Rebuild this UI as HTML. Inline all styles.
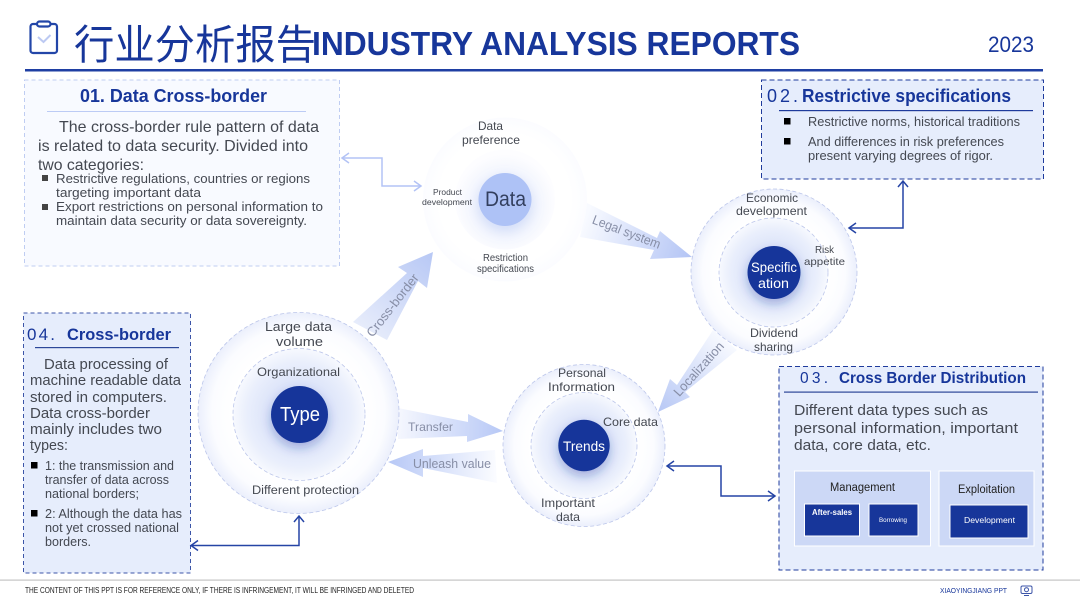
<!DOCTYPE html>
<html lang="en">
<head>
<meta charset="utf-8">
<title>Industry Analysis Reports</title>
<style>
html,body{margin:0;padding:0;background:#fff;width:1080px;height:608px;overflow:hidden}
svg{display:block}
text{font-family:"Liberation Sans","Noto Sans CJK SC",sans-serif;fill:#444851;white-space:pre}
.t{fill:#17369a;font-weight:bold}
.n{fill:#17369a}
.w{fill:#fff}
.a{fill:#878ea6}
</style>
</head>
<body>
<svg xmlns="http://www.w3.org/2000/svg" width="1080" height="608" viewBox="0 0 1080 608">
<defs>
<radialGradient id="outer" cx="50%" cy="50%" r="50%">
<stop offset="0.66" stop-color="#fff"/><stop offset="0.86" stop-color="#fbfcff"/><stop offset="1" stop-color="#ebeffc"/>
</radialGradient>
<radialGradient id="inner" cx="50%" cy="50%" r="50%">
<stop offset="0.45" stop-color="#dbe3f9"/><stop offset="0.8" stop-color="#eaeffc"/><stop offset="1" stop-color="#f7f9fe"/>
</radialGradient>
<radialGradient id="fo" cx="50%" cy="50%" r="50%">
<stop offset="0.8" stop-color="#fff"/><stop offset="1" stop-color="#fbfcff"/>
</radialGradient>
<radialGradient id="fi" cx="50%" cy="55%" r="50%">
<stop offset="0.5" stop-color="#eef2fd"/><stop offset="1" stop-color="#fdfdff"/>
</radialGradient>
<linearGradient id="ar1" gradientUnits="userSpaceOnUse" x1="365" y1="335" x2="430" y2="255"><stop offset="0" stop-color="#e8edfb"/><stop offset="1" stop-color="#b9c9f5"/></linearGradient>
<linearGradient id="ar2" gradientUnits="userSpaceOnUse" x1="585" y1="220" x2="690" y2="257"><stop offset="0" stop-color="#f8faff"/><stop offset="1" stop-color="#b4c5f5"/></linearGradient>
<linearGradient id="ar3" gradientUnits="userSpaceOnUse" x1="725" y1="338" x2="660" y2="410"><stop offset="0" stop-color="#f8faff"/><stop offset="1" stop-color="#b9c9f5"/></linearGradient>
<linearGradient id="ar4" gradientUnits="userSpaceOnUse" x1="398" y1="425" x2="503" y2="431"><stop offset="0" stop-color="#f5f7fe"/><stop offset="1" stop-color="#b7c8f6"/></linearGradient>
<linearGradient id="ar5" gradientUnits="userSpaceOnUse" x1="497" y1="466" x2="388" y2="462"><stop offset="0" stop-color="#fbfcff"/><stop offset="1" stop-color="#b7c8f6"/></linearGradient>
<filter id="sh" x="-50%" y="-50%" width="200%" height="200%"><feDropShadow dx="0" dy="5" stdDeviation="5" flood-color="#1a3a9c" flood-opacity="0.3"/></filter>
<filter id="sl" x="-50%" y="-50%" width="200%" height="200%"><feDropShadow dx="0" dy="5" stdDeviation="6" flood-color="#a8bbf0" flood-opacity="0.4"/></filter>
</defs>

<!-- Header -->
<g fill="none" stroke="#2346a8" stroke-width="2.2">
<rect x="30.500" y="24" width="26.500" height="29" rx="2.500"/>
<rect x="37" y="21.500" width="13.500" height="5" rx="2.500" fill="#fff"/>
</g>
<path d="M38 37l5.500 5 7-7" fill="none" stroke="#bcc9f2" stroke-width="2"/>
<text x="74" y="59" font-size="41" textLength="242" lengthAdjust="spacingAndGlyphs" style="fill:#17369a">行业分析报告</text>
<text x="312" y="55" font-size="33" class="t" textLength="488" lengthAdjust="spacingAndGlyphs">INDUSTRY ANALYSIS REPORTS</text>
<text x="988" y="52" font-size="22" class="n" textLength="46" lengthAdjust="spacingAndGlyphs">2023</text>
<rect x="25" y="69" width="1018" height="2.500" fill="#1f3fa3"/>

<!-- Box 1 -->
<rect x="24.500" y="80" width="315" height="186" fill="#f8faff" stroke="#bfcdf2" stroke-width="1" stroke-dasharray="4 3"/>
<text x="80" y="102" font-size="18" class="t" textLength="187" lengthAdjust="spacingAndGlyphs">01. Data Cross-border</text>
<rect x="47" y="111" width="259" height="1" fill="#bccbf5"/>
<g font-size="16">
<text x="59" y="132" textLength="260" lengthAdjust="spacingAndGlyphs">The cross-border rule pattern of data</text>
<text x="38" y="151" textLength="270" lengthAdjust="spacingAndGlyphs">is related to data security. Divided into</text>
<text x="38" y="170" textLength="106" lengthAdjust="spacingAndGlyphs">two categories:</text>
</g>
<rect x="42" y="175" width="6" height="6" fill="#444"/><rect x="42" y="204" width="6" height="6" fill="#444"/>
<g font-size="13">
<text x="56" y="183" textLength="254" lengthAdjust="spacingAndGlyphs">Restrictive regulations, countries or regions</text>
<text x="56" y="197" textLength="145" lengthAdjust="spacingAndGlyphs">targeting important data</text>
<text x="56" y="211" textLength="267" lengthAdjust="spacingAndGlyphs">Export restrictions on personal information to</text>
<text x="56" y="225" textLength="251" lengthAdjust="spacingAndGlyphs">maintain data security or data sovereignty.</text>
</g>

<!-- Box 2 -->
<rect x="761.500" y="80" width="282" height="99" fill="#e6edfc" stroke="#1f3b9c" stroke-width="1" stroke-dasharray="5 3"/>
<text x="767" y="102" font-size="18" class="n" textLength="31" lengthAdjust="spacing">02.</text>
<text x="802" y="102" font-size="18" class="t" textLength="209" lengthAdjust="spacingAndGlyphs">Restrictive specifications</text>
<rect x="779" y="110" width="254" height="1.200" fill="#1f3b9c"/>
<rect x="784" y="118" width="6.500" height="6.500" fill="#000"/><rect x="784" y="138" width="6.500" height="6.500" fill="#000"/>
<g font-size="12.500">
<text x="808" y="126" textLength="212" lengthAdjust="spacingAndGlyphs">Restrictive norms, historical traditions</text>
<text x="808" y="146" textLength="196" lengthAdjust="spacingAndGlyphs">And differences in risk preferences</text>
<text x="808" y="160" textLength="185" lengthAdjust="spacingAndGlyphs">present varying degrees of rigor.</text>
</g>

<!-- Box 3 -->
<rect x="779" y="366.500" width="264" height="203.500" fill="#e6edfc" stroke="#1f3b9c" stroke-width="1" stroke-dasharray="5 3"/>
<text x="800" y="383" font-size="15.500" class="n" textLength="28" lengthAdjust="spacing">03.</text>
<text x="839" y="383" font-size="15.500" class="t" textLength="187" lengthAdjust="spacingAndGlyphs">Cross Border Distribution</text>
<rect x="784" y="391.500" width="254" height="1.200" fill="#2c4799"/>
<g font-size="15">
<text x="794" y="415" textLength="194" lengthAdjust="spacingAndGlyphs">Different data types such as</text>
<text x="794" y="433" textLength="224" lengthAdjust="spacingAndGlyphs">personal information, important</text>
<text x="794" y="450" textLength="137" lengthAdjust="spacingAndGlyphs">data, core data, etc.</text>
</g>
<rect x="794.500" y="471" width="136" height="75" fill="#ccd8f6" stroke="#fff"/>
<rect x="939" y="471" width="95" height="75" fill="#ccd8f6" stroke="#fff"/>
<text x="830" y="491" font-size="11.500" style="fill:#222" textLength="65" lengthAdjust="spacingAndGlyphs">Management</text>
<text x="958" y="493" font-size="11.500" style="fill:#222" textLength="57" lengthAdjust="spacingAndGlyphs">Exploitation</text>
<rect x="804.500" y="504" width="55" height="32" fill="#17369a" stroke="#fff"/>
<rect x="869" y="504" width="49" height="32" fill="#17369a" stroke="#fff"/>
<rect x="950" y="505" width="78" height="33" fill="#17369a" stroke="#fff"/>
<text x="812" y="515" font-size="8.500" class="w" font-weight="bold" textLength="40" lengthAdjust="spacingAndGlyphs">After-sales</text>
<text x="879" y="522" font-size="6" class="w" textLength="28" lengthAdjust="spacingAndGlyphs">Borrowing</text>
<text x="964" y="523" font-size="8.500" class="w" textLength="51" lengthAdjust="spacingAndGlyphs">Development</text>

<!-- Box 4 -->
<rect x="23.500" y="313" width="167" height="260" fill="#e6edfc" stroke="#3c55a8" stroke-width="1" stroke-dasharray="4 3"/>
<text x="27" y="340" font-size="17" class="n" textLength="28" lengthAdjust="spacing">04.</text>
<text x="67" y="340" font-size="17" class="t" textLength="104" lengthAdjust="spacingAndGlyphs">Cross-border</text>
<rect x="35" y="347" width="144" height="1.200" fill="#2c4799"/>
<g font-size="14.500">
<text x="44" y="369" textLength="124" lengthAdjust="spacingAndGlyphs">Data processing of</text>
<text x="30" y="385" textLength="151" lengthAdjust="spacingAndGlyphs">machine readable data</text>
<text x="30" y="402" textLength="137" lengthAdjust="spacingAndGlyphs">stored in computers.</text>
<text x="30" y="418" textLength="120" lengthAdjust="spacingAndGlyphs">Data cross-border</text>
<text x="30" y="434" textLength="132" lengthAdjust="spacingAndGlyphs">mainly includes two</text>
<text x="30" y="450" textLength="38" lengthAdjust="spacingAndGlyphs">types:</text>
</g>
<rect x="31" y="462" width="6.500" height="6.500" fill="#000"/><rect x="31" y="510" width="6.500" height="6.500" fill="#000"/>
<g font-size="12.500" style="fill:#222">
<text x="45" y="470" textLength="129" lengthAdjust="spacingAndGlyphs">1: the transmission and</text>
<text x="45" y="484" textLength="124" lengthAdjust="spacingAndGlyphs">transfer of data across</text>
<text x="45" y="498" textLength="94" lengthAdjust="spacingAndGlyphs">national borders;</text>
<text x="45" y="518" textLength="137" lengthAdjust="spacingAndGlyphs">2: Although the data has</text>
<text x="45" y="532" textLength="134" lengthAdjust="spacingAndGlyphs">not yet crossed national</text>
<text x="45" y="546" textLength="46" lengthAdjust="spacingAndGlyphs">borders.</text>
</g>

<!-- Arrows -->
<polygon points="433,252 427,288 418,281 387,340 353,322 407,273 398,267" fill="url(#ar1)"/>
<polygon points="587,203 657,238 660,231 692,257 650,259 654,250 580,237" fill="url(#ar2)"/>
<polygon points="658,412 670,379 677,385 713,330 737,350 685,392 690,397" fill="url(#ar3)"/>
<polygon points="398,408 468,422 468,414 503,431 467,442 467,436 398,439" fill="url(#ar4)"/>
<polygon points="388,462 423,449 423,456 495,450 497,483 423,468 423,477" fill="url(#ar5)"/>
<text class="a" font-size="13" text-anchor="middle" transform="translate(396,308) rotate(-52)" textLength="76" lengthAdjust="spacingAndGlyphs">Cross-border</text>
<text class="a" font-size="13" text-anchor="middle" transform="translate(625,236) rotate(21)" textLength="72" lengthAdjust="spacingAndGlyphs">Legal system</text>
<text class="a" font-size="13" text-anchor="middle" transform="translate(702,372) rotate(-48)" textLength="68" lengthAdjust="spacingAndGlyphs">Localization</text>
<text class="a" x="408" y="431" font-size="12" textLength="45" lengthAdjust="spacingAndGlyphs">Transfer</text>
<text class="a" x="413" y="468" font-size="13" textLength="78" lengthAdjust="spacingAndGlyphs">Unleash value</text>

<!-- Data circle -->
<circle cx="505" cy="199.500" r="82" fill="url(#fo)"/>
<circle cx="505" cy="199.500" r="50" fill="url(#fi)"/>
<circle cx="505" cy="199.500" r="26.500" fill="#aec2f6" filter="url(#sl)"/>
<text x="485" y="206" font-size="21" style="fill:#333f5e" textLength="41" lengthAdjust="spacingAndGlyphs">Data</text>
<g font-size="12">
<text x="478" y="130" textLength="25" lengthAdjust="spacingAndGlyphs">Data</text>
<text x="462" y="144" textLength="58" lengthAdjust="spacingAndGlyphs">preference</text>
</g>
<text x="433" y="195" font-size="8.500" textLength="29" lengthAdjust="spacingAndGlyphs">Product</text>
<text x="422" y="205" font-size="8.500" textLength="50" lengthAdjust="spacingAndGlyphs">development</text>
<text x="483" y="261" font-size="10" textLength="45" lengthAdjust="spacingAndGlyphs">Restriction</text>
<text x="477" y="272" font-size="10" textLength="57" lengthAdjust="spacingAndGlyphs">specifications</text>

<!-- Specification circle -->
<circle cx="774" cy="272" r="83" fill="url(#outer)" stroke="#bcc6ea" stroke-dasharray="4 2.500" stroke-width="0.800"/>
<circle cx="773.500" cy="272.500" r="54.500" fill="url(#inner)" stroke="#bcc6ea" stroke-dasharray="4 2.500" stroke-width="0.800"/>
<circle cx="774" cy="272.500" r="26.500" fill="#17369a" filter="url(#sh)"/>
<text x="751" y="272" font-size="14" class="w" textLength="46" lengthAdjust="spacingAndGlyphs">Specific</text>
<text x="758" y="288" font-size="14" class="w" textLength="31" lengthAdjust="spacingAndGlyphs">ation</text>
<g font-size="12">
<text x="746" y="202" textLength="52" lengthAdjust="spacingAndGlyphs">Economic</text>
<text x="736" y="215" textLength="71" lengthAdjust="spacingAndGlyphs">development</text>
<text x="750" y="337" textLength="48" lengthAdjust="spacingAndGlyphs">Dividend</text>
<text x="754" y="351" textLength="39" lengthAdjust="spacingAndGlyphs">sharing</text>
</g>
<text x="815" y="253" font-size="10.500" textLength="19" lengthAdjust="spacingAndGlyphs">Risk</text>
<text x="804" y="265" font-size="10.500" textLength="41" lengthAdjust="spacingAndGlyphs">appetite</text>

<!-- Trends circle -->
<circle cx="584" cy="445.500" r="81" fill="url(#outer)" stroke="#bcc6ea" stroke-dasharray="4 2.500" stroke-width="0.800"/>
<circle cx="584" cy="445.500" r="53" fill="url(#inner)" stroke="#bcc6ea" stroke-dasharray="4 2.500" stroke-width="0.800"/>
<circle cx="584" cy="445.500" r="25.700" fill="#17369a" filter="url(#sh)"/>
<text x="563" y="451" font-size="14" class="w" textLength="42" lengthAdjust="spacingAndGlyphs">Trends</text>
<g font-size="12">
<text x="558" y="377" textLength="48" lengthAdjust="spacingAndGlyphs">Personal</text>
<text x="548" y="391" textLength="67" lengthAdjust="spacingAndGlyphs">Information</text>
<text x="603" y="426" textLength="55" lengthAdjust="spacingAndGlyphs">Core data</text>
<text x="541" y="507" textLength="54" lengthAdjust="spacingAndGlyphs">Important</text>
<text x="556" y="521" textLength="24" lengthAdjust="spacingAndGlyphs">data</text>
</g>

<!-- Type circle -->
<circle cx="298.500" cy="413" r="100.500" fill="url(#outer)" stroke="#bcc6ea" stroke-dasharray="4 2.500" stroke-width="0.800"/>
<circle cx="299" cy="414.500" r="66" fill="url(#inner)" stroke="#bcc6ea" stroke-dasharray="4 2.500" stroke-width="0.800"/>
<circle cx="299.500" cy="414.500" r="28.500" fill="#17369a" filter="url(#sh)"/>
<text x="280" y="421" font-size="20" class="w" textLength="40" lengthAdjust="spacingAndGlyphs">Type</text>
<text x="265" y="331" font-size="13" textLength="67" lengthAdjust="spacingAndGlyphs">Large data</text>
<text x="276" y="346" font-size="13" textLength="47" lengthAdjust="spacingAndGlyphs">volume</text>
<text x="257" y="376" font-size="12" textLength="83" lengthAdjust="spacingAndGlyphs">Organizational</text>
<text x="252" y="494" font-size="11.500" textLength="107" lengthAdjust="spacingAndGlyphs">Different protection</text>

<!-- Connectors -->
<g fill="none" stroke="#b3c3f5" stroke-width="1.500">
<path d="M342 158H382V186H420"/>
<path d="M349 153L342 158L349 163"/>
<path d="M414 181L421 186L414 191"/>
</g>
<g fill="none" stroke="#2544a5" stroke-width="1.500">
<path d="M903 181V228H849"/>
<path d="M898 187L903 181L908 187"/>
<path d="M856 223L849 228L856 233"/>
<path d="M667 466H721V496H774"/>
<path d="M674 461L667 466L674 471"/>
<path d="M768 491L775 496L768 501"/>
<path d="M191 545.500H299V516"/>
<path d="M198 540.500L191 545.500L198 550.500"/>
<path d="M294 522L299 516L304 522"/>
</g>

<!-- Footer -->
<rect x="0" y="579.500" width="1080" height="1.200" fill="#c4c4c4"/>
<text x="25" y="593" font-size="8" style="fill:#222" textLength="389" lengthAdjust="spacingAndGlyphs">THE CONTENT OF THIS PPT IS FOR REFERENCE ONLY, IF THERE IS INFRINGEMENT, IT WILL BE INFRINGED AND DELETED</text>
<text x="940" y="593" font-size="7.500" class="n" textLength="67" lengthAdjust="spacingAndGlyphs">XIAOYINGJIANG PPT</text>
<g fill="none" stroke="#3c55a8" stroke-width="1">
<rect x="1021" y="586" width="11" height="7.500" rx="1.500"/>
<circle cx="1026.500" cy="589.700" r="2"/>
<path d="M1024 595.500H1029"/>
</g>
</svg>
</body>
</html>
